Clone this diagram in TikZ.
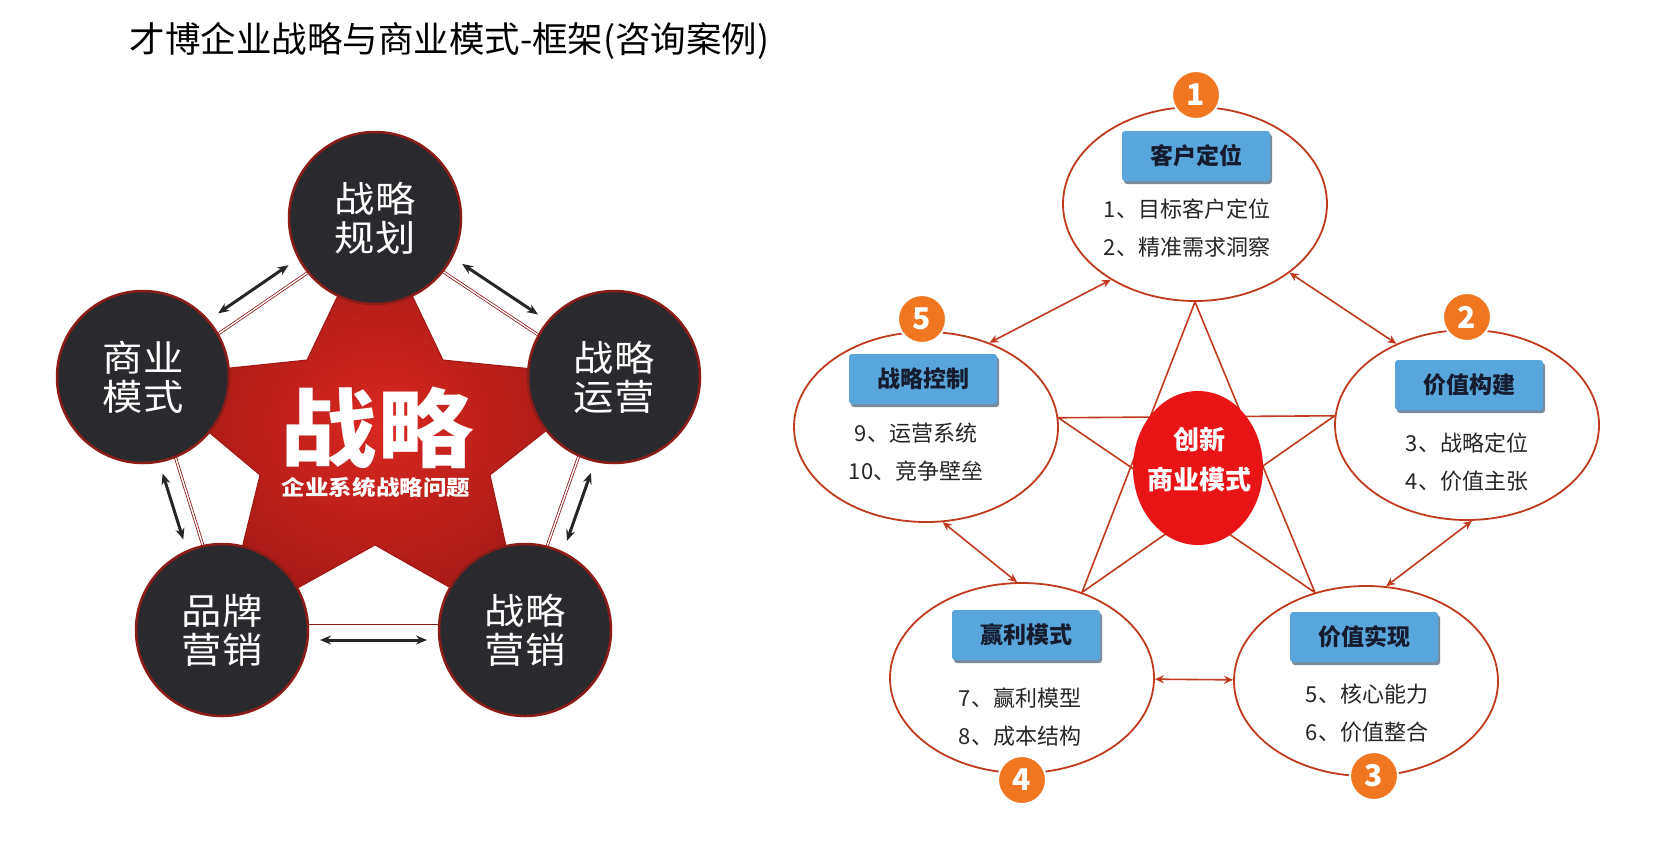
\documentclass[tikz,border=0pt]{standalone}
\usepackage{fontspec}
\usepackage{tikz}
\usetikzlibrary{arrows.meta,calc,shapes.geometric,shadows}

\newfontfamily\cjk{Noto Sans CJK SC}
\newfontfamily\cjkwide[FakeStretch=1.12]{Noto Sans CJK SC}

\definecolor{starred}{RGB}{216,40,32}
\definecolor{stardark}{RGB}{160,24,20}
\definecolor{ringred}{RGB}{140,28,24}
\definecolor{discgray}{RGB}{42,42,46}
\definecolor{linkred}{RGB}{192,58,30}
\definecolor{badgeorange}{RGB}{240,118,32}
\definecolor{boxblue}{RGB}{88,166,220}
\definecolor{boxshade}{RGB}{120,140,160}
\definecolor{boxtext}{RGB}{22,28,48}
\definecolor{corered}{RGB}{232,20,22}

\tikzset{
  disc/.style={circle, draw=ringred, line width=2.5pt, fill=discgray,
    minimum size=172pt, inner sep=0pt, text=white, align=center,
    font=\cjkwide\fontsize{36}{39}\selectfont},
  rim/.style={draw=ringred, line width=0.8pt, double=white, double distance=1.4pt},
  blkarrow/.style={draw=black!85, line width=3pt,
    {Stealth[length=11pt,width=9pt]}-{Stealth[length=11pt,width=9pt]}},
  bubble/.style={ellipse, draw=linkred, line width=1.8pt, fill=white,
    inner sep=0pt, minimum width=264pt, minimum height=190pt},
  duplex/.style={draw=linkred, line width=1.6pt,
    {Stealth[length=9pt,width=8pt]}-{Stealth[length=9pt,width=8pt]}},
  labelbox/.style={rectangle, rounded corners=3pt, fill=boxblue,
    minimum width=148pt, minimum height=50pt, text=boxtext,
    font=\cjk\bfseries\fontsize{23}{23}\selectfont,
    drop shadow={shadow xshift=2pt, shadow yshift=-3pt, fill=boxshade, opacity=1}},
  itemtext/.style={align=center, text=black!85, font=\cjk\fontsize{22}{38}\selectfont},
  badge/.style={circle, fill=badgeorange, draw=white, line width=2pt,
    minimum size=48pt, inner sep=0pt, text=white,
    font=\cjk\bfseries\fontsize{30}{30}\selectfont},
}

\begin{document}
\begin{tikzpicture}[x=1pt,y=-1pt]

% Canvas
\fill[white, use as bounding box] (0,0) rectangle (1677,855);

% Title
\node[anchor=west, font=\cjk\fontsize{35.5}{36}\selectfont] (title) at (126,41)
  {才博企业战略与商业模式-框架(咨询案例)};

% ---------- Left: strategy star ----------
\coordinate (cPlan)  at (375,218);
\coordinate (cOper)  at (614,377);
\coordinate (cSale)  at (525,630);
\coordinate (cBrand) at (222,630);
\coordinate (cModel) at (143,377);

% Star
\shadedraw[inner color=starred, outer color=stardark, draw=stardark, line width=1pt]
  (cPlan) -- (443,360) -- (cOper) -- (490,475) -- (cSale) -- (375,545)
  -- (cBrand) -- (260,475) -- (cModel) -- (307,360) -- cycle;

% Rims between discs
\foreach \a/\b in {cPlan/cOper, cOper/cSale, cSale/cBrand, cBrand/cModel, cModel/cPlan}
  \draw[rim] ($(\a)!7pt!-90:(\b)$) -- ($(\b)!7pt!90:(\a)$);

% Discs
\node[disc] (plan)  at (cPlan)  {战略\\规划};
\node[disc] (oper)  at (cOper)  {战略\\运营};
\node[disc] (sale)  at (cSale)  {战略\\营销};
\node[disc] (brand) at (cBrand) {品牌\\营销};
\node[disc] (model) at (cModel) {商业\\模式};

% Black arrows outside the rims
\foreach \a/\b in {plan/oper, oper/sale, sale/brand, brand/model, model/plan}
  \draw[blkarrow, shorten <=98pt, shorten >=98pt]
    ($(\a.center)!10pt!90:(\b.center)$) -- ($(\b.center)!10pt!-90:(\a.center)$);

% Star caption
\node[text=white, font=\cjkwide\bfseries\fontsize{86}{86}\selectfont] (core) at (377,428) {战略};
\node[text=white, font=\cjkwide\bfseries\fontsize{21}{21}\selectfont] (coresub) at (376,487) {企业系统战略问题};

% ---------- Right: business model ----------
\node[bubble, minimum height=194pt] (e1) at (1195,204) {};
\node[bubble] (e5) at (926,427) {};
\node[bubble] (e2) at (1467,425) {};
\node[bubble] (e4) at (1022,678) {};
\node[bubble] (e3) at (1366,681) {};

% Pentagram
\draw[linkred, line width=1.6pt, line join=round]
  (e1.south) -- (e4.55) -- (e2.176) -- (e5.4) -- (e3.120) -- cycle;

% Arrows between bubbles
\draw[duplex] (e1.222) -- (e5.53);
\draw[duplex] (e1.-36) -- (e2.131);
\draw[duplex] (e5.-80) -- (e4.93);
\draw[duplex] (e2.-87) -- (e3.78);
\draw[duplex] (e4) -- (e3);

% Centre
\node[ellipse, fill=corered, minimum width=130pt, minimum height=154pt] (innov) at (1198,468) {};
\node[align=center, text=white, font=\cjk\bfseries\fontsize{26}{40}\selectfont] (innovtext) at (1199,460) {创新\\商业模式};

% Labels
\node[labelbox] (t1) at (1196,156) {客户定位};
\node[labelbox] (t5) at (923,379)  {战略控制};
\node[labelbox] (t2) at (1469,385) {价值构建};
\node[labelbox] (t4) at (1026,635) {赢利模式};
\node[labelbox] (t3) at (1364,637) {价值实现};

% Items
\node[itemtext] (i1) at (1187,228) {1、目标客户定位\\2、精准需求洞察};
\node[itemtext] (i5) at (916,452)  {9、运营系统\\10、竞争壁垒};
\node[itemtext] (i2) at (1467,462) {3、战略定位\\4、价值主张};
\node[itemtext] (i4) at (1020,717) {7、赢利模型\\8、成本结构};
\node[itemtext] (i3) at (1367,713) {5、核心能力\\6、价值整合};

% Badges
\node[badge] (b1) at (1196,95)  {1};
\node[badge] (b2) at (1467,317) {2};
\node[badge] (b3) at (1374,776) {3};
\node[badge] (b4) at (1022,780) {4};
\node[badge] (b5) at (922,319)  {5};

\end{tikzpicture}
\end{document}
